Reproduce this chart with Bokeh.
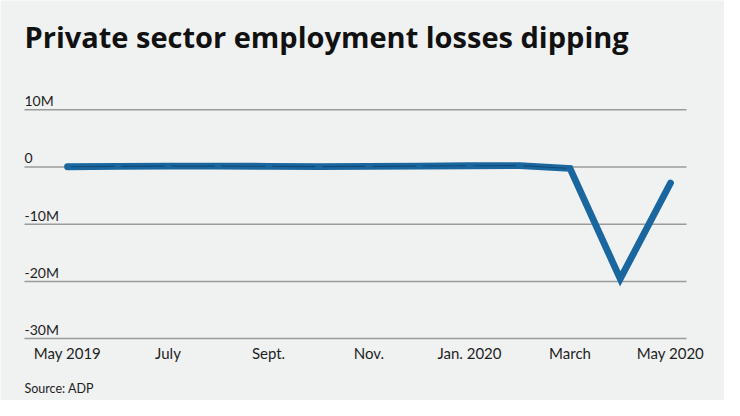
from bokeh.plotting import figure
from bokeh.models import ColumnDataSource, Range1d
from bokeh.embed import file_html
from bokeh.resources import INLINE
from bokeh.core.properties import value

months = ["May 2019", "June", "July", "Aug.", "Sept.", "Oct.", "Nov.", "Dec.",
          "Jan. 2020", "Feb.", "March", "April", "May 2020"]
employment_change_m = [0.04, 0.11, 0.14, 0.16, 0.12, 0.06, 0.12, 0.17,
                       0.22, 0.24, -0.25, -19.56, -2.80]
y_ticks = [10, 0, -10, -20, -30]
y_tick_labels = ["10M", "0", "-10M", "-20M", "-30M"]
x_tick_idx = [0, 2, 4, 6, 8, 10, 12]
x_tick_labels = ["May 2019", "July", "Sept.", "Nov.", "Jan. 2020", "March", "May 2020"]
title_text = "Private sector employment losses dipping"
source_text = "Source: ADP"

W, H = 724, 400
px_per_month = 50.25
x0_px = 67.0
px_per_m = 5.72
zero_px = 166.5

xs = Range1d(-x0_px / px_per_month, (W - x0_px) / px_per_month)
ys = Range1d((zero_px - H) / px_per_m, zero_px / px_per_m)

BG = "#f0f1f1"
FONT = "Lato"
TXT = "#1e1e1e"
BASE_SHIFT = 0.42  # em; svg baseline correction

p = figure(width=W, height=H, x_range=xs, y_range=ys, output_backend="svg",
           toolbar_location=None, min_border=0, background_fill_color=BG,
           border_fill_color=BG, outline_line_color=None)
p.axis.visible = False
p.grid.visible = False


def sx(px):
    """screen x (px from left) -> data x"""
    return xs.start + px / px_per_month


def sy(px):
    """screen y (px from top) -> data y"""
    return ys.end - px / px_per_m


def base(px, size):
    """desired baseline (px from top) for a given font size -> data y"""
    return sy(px - BASE_SHIFT * size)


x_left = sx(24)
x_right = sx(686)

TICK_FS = 14
grid_src = ColumnDataSource(dict(x0=[x_left] * len(y_ticks), x1=[x_right] * len(y_ticks),
                                 y=y_ticks, lab=y_tick_labels,
                                 ly=[v + (3 + BASE_SHIFT * TICK_FS) / px_per_m for v in y_ticks],
                                 lx=[x_left] * len(y_ticks)))
p.segment(x0="x0", y0="y", x1="x1", y1="y", source=grid_src,
          line_color="#9b9b9b", line_width=1.5)
p.text(x="lx", y="ly", text="lab", source=grid_src, text_font=value(FONT),
       text_font_size=f"{TICK_FS}px", text_color=TXT, text_baseline="alphabetic",
       text_align="left")

line_src = ColumnDataSource(dict(x=list(range(len(months))), y=employment_change_m))
p.line(x="x", y="y", source=line_src, line_color="#1a67a0", line_width=6.8,
       line_cap="round", line_join="miter")

# thin darker core visible along the flat stretch of the line (segment per month)
n_flat = 10
gap = 0.07
seg_x0, seg_x1, seg_y0, seg_y1 = [], [], [], []
for i in range(n_flat):
    a, b = employment_change_m[i], employment_change_m[i + 1]
    seg_x0.append(i + gap)
    seg_x1.append(i + 1 - gap)
    seg_y0.append(a + (b - a) * gap)
    seg_y1.append(b - (b - a) * gap)
p.segment(x0=seg_x0, y0=seg_y0, x1=seg_x1, y1=seg_y1, line_color="#0f4470",
          line_width=1.2, line_alpha=0.8)

XL_FS = 15
xl_src = ColumnDataSource(dict(x=x_tick_idx, lab=x_tick_labels,
                               y=[base(359, XL_FS)] * len(x_tick_idx)))
p.text(x="x", y="y", text="lab", source=xl_src, text_font=value(FONT),
       text_font_size=f"{XL_FS}px", text_color=TXT, text_baseline="alphabetic",
       text_align="center")

TITLE_FS = 29
p.text(x=[sx(24)], y=[base(48, TITLE_FS)], text=[title_text], text_font=value("Open Sans"),
       text_font_size=f"{TITLE_FS}px", text_font_style="bold", text_color="#111111",
       text_baseline="alphabetic", text_align="left")

SRC_FS = 12.5
p.text(x=[sx(24)], y=[base(393, SRC_FS)], text=[source_text], text_font=value(FONT),
       text_font_size=f"{SRC_FS}px", text_color=TXT, text_baseline="alphabetic",
       text_align="left")

open("out.html", "w").write(file_html(p, INLINE))
